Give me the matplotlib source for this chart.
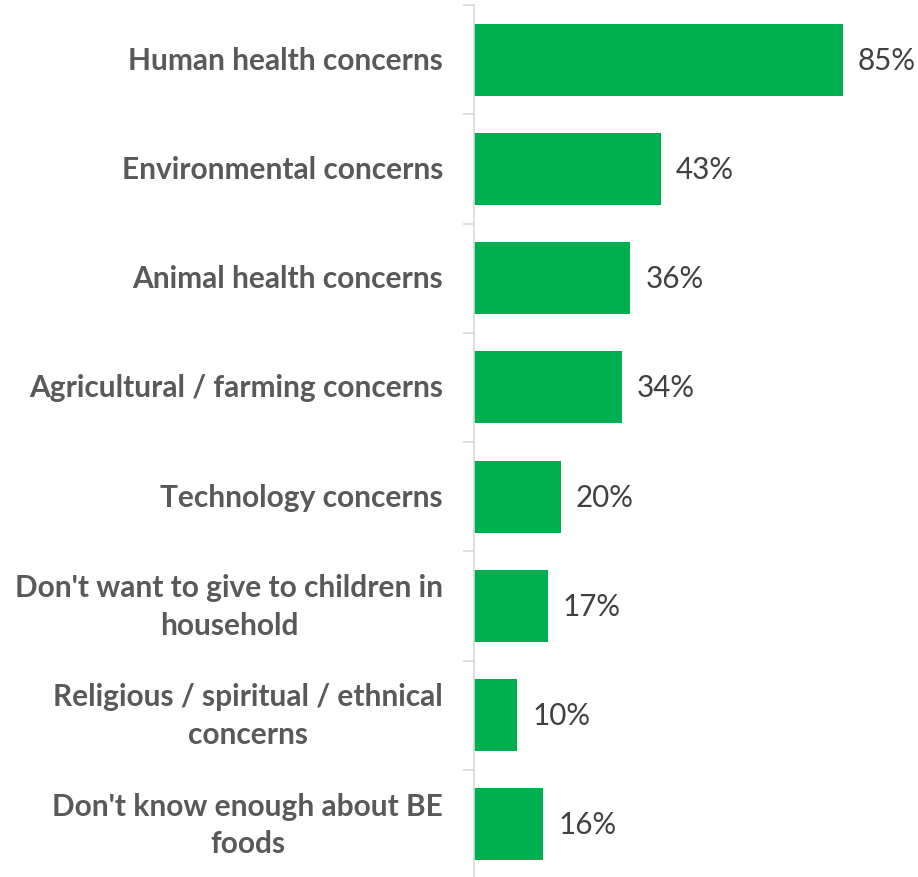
import matplotlib.pyplot as plt
import numpy as np

categories = [
    "Human health concerns",
    "Environmental concerns",
    "Animal health concerns",
    "Agricultural / farming concerns",
    "Technology concerns",
    "Don't want to give to children in\nhousehold",
    "Religious / spiritual / ethnical\nconcerns",
    "Don't know enough about BE\nfoods",
]
values = [85, 43, 36, 34, 20, 17, 10, 16]

plt.rcParams['font.family'] = ['Lato', 'DejaVu Sans']

fig = plt.figure(figsize=(9.18, 8.78), dpi=100)
ax = fig.add_axes([474 / 918, -2 / 878, 444 / 918, 874 / 878])

y = np.arange(len(categories))
ax.barh(y, values, height=0.66, color="#00B050")
ax.set_ylim(len(categories) - 0.5, -0.5)
ax.set_xlim(0, 444 / 4.34)

# percentage labels to the right of each bar
for yi, v in zip(y, values):
    ax.text(v + 15 / 4.34, yi, f"{v}%", va="center", ha="left",
            fontsize=21.3, color="#404040")

# category names, centred, to the left of the axis
for yi, c in zip(y, categories):
    ax.annotate(c, xy=(0, yi), xycoords="data", xytext=(-31, 0),
                textcoords="offset pixels", ha="right", va="center",
                multialignment="center", fontsize=21.5, fontweight="bold",
                color="#595959", linespacing=1.42)

for s in ["top", "right", "bottom"]:
    ax.spines[s].set_visible(False)
ax.spines["left"].set_color("#D9D9D9")
ax.spines["left"].set_linewidth(1.2)
ax.set_xticks([])
ax.set_yticks(np.arange(-0.5, len(categories), 1))
ax.set_yticklabels([])
ax.tick_params(axis="y", length=8, color="#D9D9D9", width=1.2)

fig.savefig("out.png", dpi=100)
